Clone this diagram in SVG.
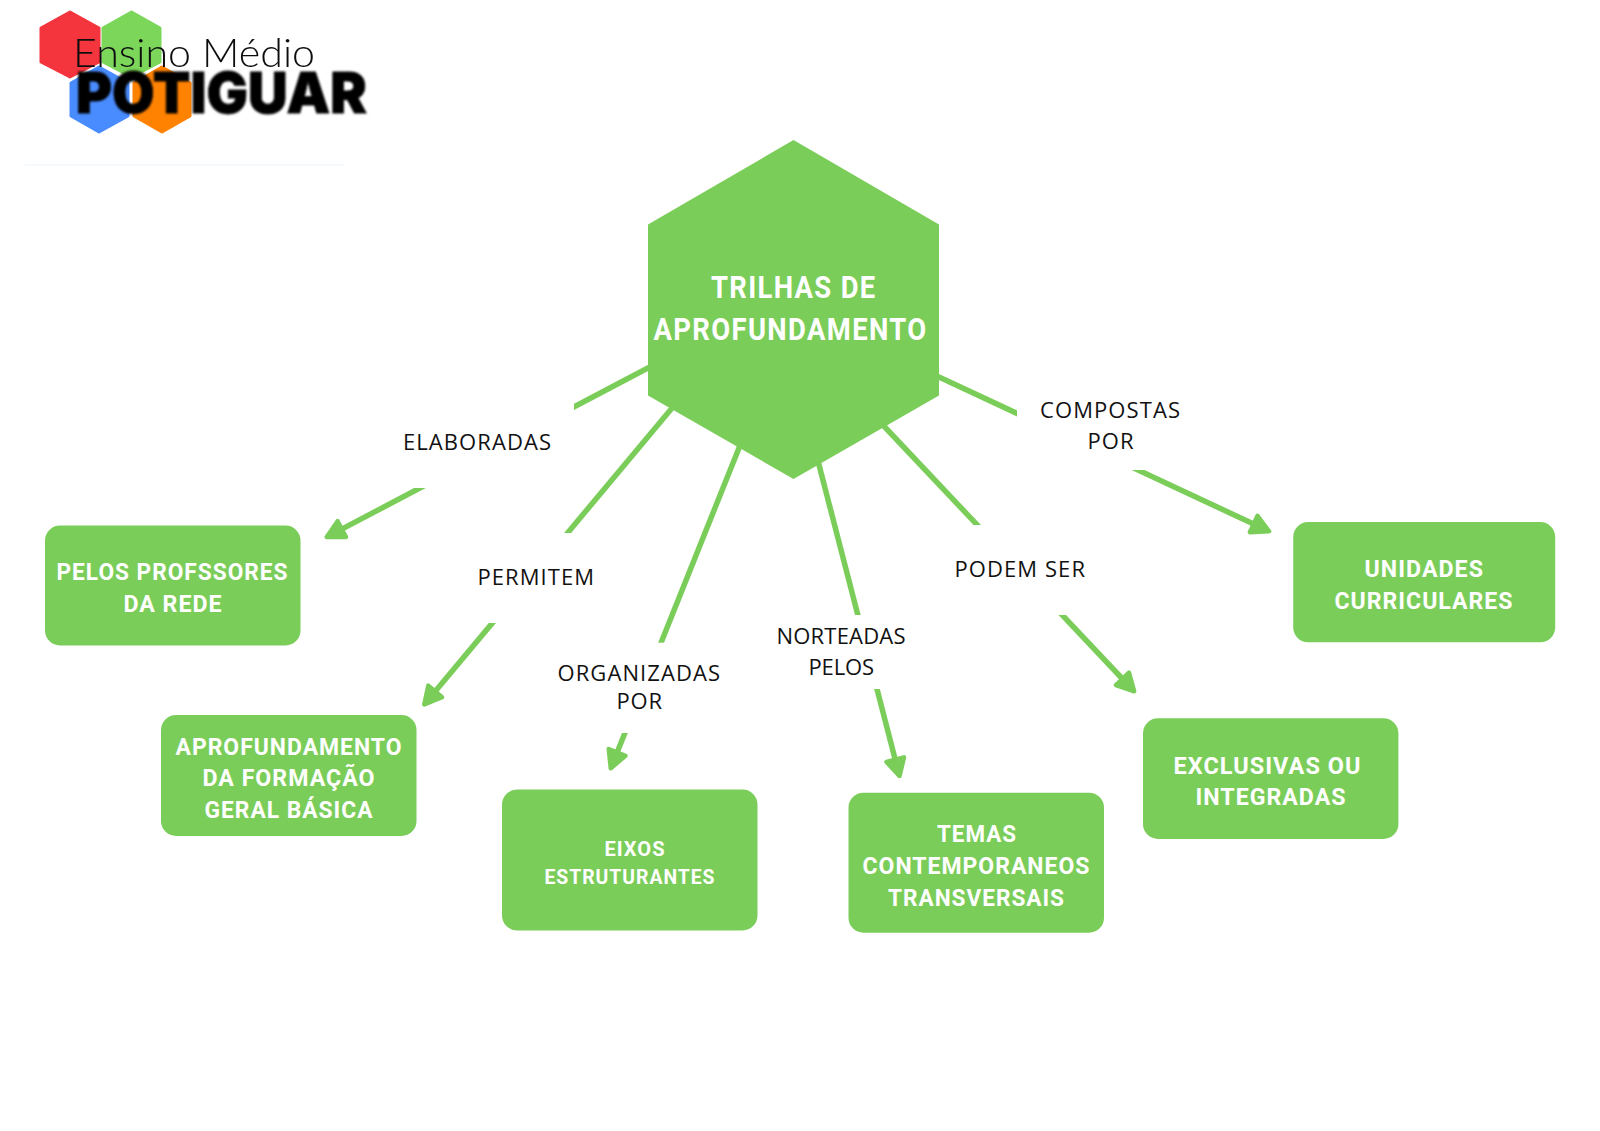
<svg xmlns="http://www.w3.org/2000/svg" width="1600" height="1131" viewBox="0 0 1600 1131">
<style>
.conn{stroke:#7bcd5a;stroke-width:5.5;fill:none;marker-end:url(#arrow)}
.shape{fill:#7bcd5a}
.mask{fill:#fff}
.t{font-family:Roboto,"Liberation Sans",sans-serif;font-weight:700;fill:#fff;font-size:23px;letter-spacing:1px}
.h{font-size:31px;letter-spacing:1.500px}
.s{font-size:20px}
.l{font-family:"Open Sans","Liberation Sans",sans-serif;font-weight:400;fill:#111;font-size:22px}
</style>
<defs>
<marker id="arrow" markerUnits="userSpaceOnUse" markerWidth="30" markerHeight="30" viewBox="0 0 30 30" refX="10" refY="15" orient="auto">
<path d="M3 6 L20 15 L3 24 Z" fill="#7bcd5a" stroke="#7bcd5a" stroke-width="4.500" stroke-linejoin="round"/>
</marker>
<filter id="soft" x="-5%" y="-10%" width="110%" height="120%"><feGaussianBlur stdDeviation="0.7"/></filter>
<filter id="softer" x="-5%" y="-20%" width="110%" height="140%"><feGaussianBlur stdDeviation="1.1"/></filter>
</defs>
<rect width="1600" height="1131" fill="#fff"/>

<g id="logo">
<g filter="url(#soft)">
<path d="M70 12 L99 28 V62 L70 77 L41 62 V28 Z" fill="#f4343d" stroke="#f4343d" stroke-width="3" stroke-linejoin="round"/>
<path d="M131.500 12 L160 28 V62 L131.500 77 L103 62 V28 Z" fill="#7bd65a" stroke="#7bd65a" stroke-width="3" stroke-linejoin="round"/>
<path d="M99 67 L128 83 V116 L99 132 L71 116 V83 Z" fill="#4a8cff" stroke="#4a8cff" stroke-width="3" stroke-linejoin="round"/>
<path d="M162 67 L190 83 V116 L162 132 L134 116 V83 Z" fill="#ff8200" stroke="#ff8200" stroke-width="3" stroke-linejoin="round"/>
</g>
<text x="73" y="67" textLength="242" lengthAdjust="spacingAndGlyphs" font-family="Lato,sans-serif" font-weight="300" font-size="39" fill="#111" filter="url(#soft)">Ensino Médio</text>
<text x="76" y="113" textLength="291" lengthAdjust="spacingAndGlyphs" font-family="Inter,sans-serif" font-weight="900" font-size="57" fill="#000" stroke="#000" stroke-width="0.800" filter="url(#softer)">POTIGUAR</text>
<rect x="25" y="164" width="320" height="1.500" fill="#f2f8fb"/>
</g>

<g id="connectors">
<line id="c-elaboradas" class="conn" x1="655" y1="364.300" x2="335.600" y2="532.400"/>
<line id="c-permitem" class="conn" x1="676" y1="403.200" x2="430.700" y2="696.800"/>
<line id="c-organizadas" class="conn" x1="741" y1="443" x2="614.500" y2="758.900"/>
<line id="c-norteadas" class="conn" x1="817.500" y1="459" x2="897" y2="766.400"/>
<line id="c-podem" class="conn" x1="881" y1="423" x2="1127.300" y2="684"/>
<line id="c-compostas" class="conn" x1="932" y1="373.700" x2="1260" y2="527"/>
</g>

<g id="label-elaboradas">
<rect class="mask" x="395" y="395" width="179" height="93"/>
<text class="l" x="403" y="450" textLength="148">ELABORADAS</text>
</g>
<g id="label-permitem">
<rect class="mask" x="465" y="533" width="145" height="90"/>
<text class="l" x="477.500" y="585" textLength="116.500">PERMITEM</text>
</g>
<g id="label-organizadas">
<rect class="mask" x="550" y="642.700" width="178" height="90.300"/>
<text class="l" x="557.500" y="681" textLength="162.500">ORGANIZADAS</text>
<text class="l" x="616.500" y="709" textLength="45.500">POR</text>
</g>
<g id="label-norteadas">
<rect class="mask" x="770" y="615" width="142" height="74"/>
<text class="l" x="776.500" y="644" textLength="129">NORTEADAS</text>
<text class="l" x="808.500" y="675" textLength="65.500">PELOS</text>
</g>
<g id="label-podem">
<rect class="mask" x="948" y="525" width="145" height="90"/>
<text class="l" x="954.500" y="577" textLength="130.500">PODEM SER</text>
</g>
<g id="label-compostas">
<rect class="mask" x="1017" y="395" width="170" height="75"/>
<text class="l" x="1040" y="417.500" textLength="140">COMPOSTAS</text>
<text class="l" x="1087.500" y="448.500" textLength="46">POR</text>
</g>

<g id="node-trilhas">
<polygon class="shape" points="793.500,140 939,224.500 939,395.500 793.500,479 648,395.500 648,224.500"/>
<text class="t h" x="711" y="298" textLength="165.500" lengthAdjust="spacingAndGlyphs">TRILHAS DE</text>
<text class="t h" x="653.500" y="340" textLength="274" lengthAdjust="spacingAndGlyphs">APROFUNDAMENTO</text>
</g>
<g id="node-professores">
<rect class="shape" x="45" y="525.500" width="255.500" height="120" rx="15"/>
<text class="t" x="56.500" y="580" textLength="232" lengthAdjust="spacingAndGlyphs">PELOS PROFSSORES</text>
<text class="t" x="123.500" y="612" textLength="99" lengthAdjust="spacingAndGlyphs">DA REDE</text>
</g>
<g id="node-aprofundamento">
<rect class="shape" x="161" y="715" width="255.500" height="121" rx="15"/>
<text class="t" x="175.500" y="755" textLength="227" lengthAdjust="spacingAndGlyphs">APROFUNDAMENTO</text>
<text class="t" x="202.500" y="786" textLength="173" lengthAdjust="spacingAndGlyphs">DA FORMAÇÃO</text>
<text class="t" x="204.500" y="818" textLength="169" lengthAdjust="spacingAndGlyphs">GERAL BÁSICA</text>
</g>
<g id="node-eixos">
<rect class="shape" x="502" y="789.500" width="255.500" height="141" rx="15"/>
<text class="t s" x="604.500" y="856" textLength="61" lengthAdjust="spacingAndGlyphs">EIXOS</text>
<text class="t s" x="544.500" y="884" textLength="171" lengthAdjust="spacingAndGlyphs">ESTRUTURANTES</text>
</g>
<g id="node-temas">
<rect class="shape" x="848.500" y="792.700" width="255.500" height="140" rx="15"/>
<text class="t" x="937" y="842" textLength="80" lengthAdjust="spacingAndGlyphs">TEMAS</text>
<text class="t" x="862.500" y="874" textLength="228" lengthAdjust="spacingAndGlyphs">CONTEMPORANEOS</text>
<text class="t" x="888" y="906" textLength="177" lengthAdjust="spacingAndGlyphs">TRANSVERSAIS</text>
</g>
<g id="node-exclusivas">
<rect class="shape" x="1143" y="718.300" width="255.400" height="120.700" rx="15"/>
<text class="t" x="1173.500" y="774" textLength="188" lengthAdjust="spacingAndGlyphs">EXCLUSIVAS OU</text>
<text class="t" x="1195.500" y="805" textLength="151" lengthAdjust="spacingAndGlyphs">INTEGRADAS</text>
</g>
<g id="node-unidades">
<rect class="shape" x="1293.200" y="522" width="262" height="120.300" rx="15"/>
<text class="t" x="1364.500" y="577" textLength="119.500" lengthAdjust="spacingAndGlyphs">UNIDADES</text>
<text class="t" x="1334.500" y="609" textLength="179" lengthAdjust="spacingAndGlyphs">CURRICULARES</text>
</g>
</svg>
